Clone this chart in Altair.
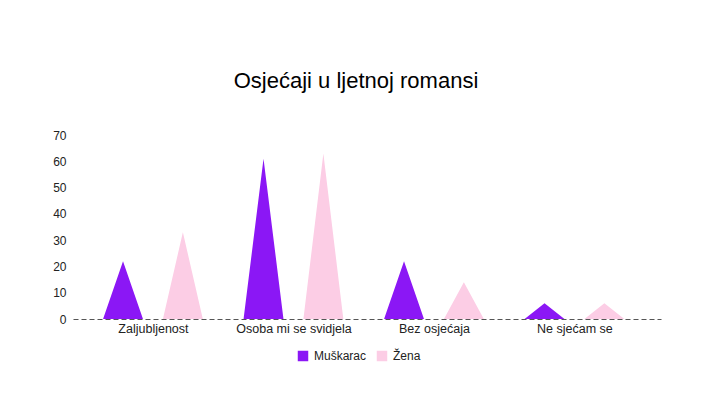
import altair as alt
import pandas as pd

categories = ["Zaljubljenost", "Osoba mi se svidjela", "Bez osjećaja", "Ne sjećam se"]
series = ["Muškarac", "Žena"]
muskarac = [22, 61, 22, 6]
zena = [33, 63, 14, 6]
colors = ["#8B17F5", "#FCCDE5"]

# geometry of the triangles (in category units)
offsets = {"Muškarac": -0.213, "Žena": 0.213}
half_w = 0.142

rows = []
for i, cat in enumerate(categories):
    for s, vals in zip(series, [muskarac, zena]):
        c = i + offsets[s]
        bar = f"{cat}-{s}"
        rows.append({"x": c - half_w, "y": 0, "series": s, "bar": bar})
        rows.append({"x": c, "y": vals[i], "series": s, "bar": bar})
        rows.append({"x": c + half_w, "y": 0, "series": s, "bar": bar})
df = pd.DataFrame(rows)

label_expr = " : ".join(
    [f"datum.value == {i} ? '{c}'" for i, c in enumerate(categories)]
) + " : ''"

FONT = "Liberation Sans"

chart = alt.Chart(df).mark_area(opacity=1, interpolate="linear").encode(
    x=alt.X("x:Q",
            scale=alt.Scale(domain=[-0.569, 3.616], nice=False, zero=False),
            axis=alt.Axis(values=[0, 1, 2, 3], labelExpr=label_expr, title=None,
                          grid=False, ticks=False, domain=True,
                          domainDash=[5, 3], domainColor="#555", domainWidth=1,
                          labelFont=FONT, labelFontSize=12.5, labelColor="#222",
                          labelPadding=3, labelFlush=False)),
    y=alt.Y("y:Q",
            scale=alt.Scale(domain=[0, 70], nice=False),
            axis=alt.Axis(values=[0, 10, 20, 30, 40, 50, 60, 70], title=None,
                          grid=False, ticks=False, domain=False,
                          labelFont=FONT, labelFontSize=12, labelColor="#222",
                          labelPadding=7)),
    color=alt.Color("series:N",
                    scale=alt.Scale(domain=series, range=colors),
                    legend=alt.Legend(title=None, orient="none", direction="horizontal",
                                      legendX=224, legendY=215,
                                      symbolType="square", symbolSize=110,
                                      symbolStrokeWidth=0, symbolOpacity=1,
                                      labelFont=FONT, labelFontSize=12, labelColor="#222",
                                      columnPadding=9, labelOffset=5)),
    detail="bar:N",
).properties(
    width=588,
    height=184,
    background="white",
    title=alt.TitleParams("Osjećaji u ljetnoj romansi", font=FONT, fontSize=22,
                          fontWeight="normal", color="#000", anchor="middle",
                          offset=36, dx=-11),
    autosize=alt.AutoSizeParams(type="none"),
    padding={"left": 73, "top": 135, "right": 57, "bottom": 78},
).configure_view(strokeWidth=0, stroke=None)

chart.save("out.html", embed_options={"renderer": "svg", "actions": False})
